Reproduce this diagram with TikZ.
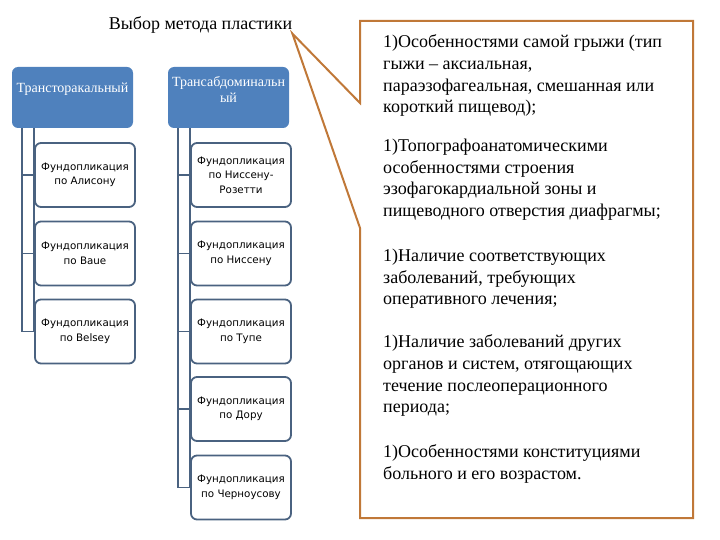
\documentclass[tikz,border=0pt]{standalone}
\usepackage{fontspec}
\setmainfont{Liberation Serif}
\newfontfamily\leaffont{DejaVu Sans}
\usepackage{xcolor}
\usetikzlibrary{positioning,calc}

\definecolor{headblue}{RGB}{79,129,189}
\definecolor{slate}{RGB}{74,98,128}
\definecolor{calloutorange}{RGB}{192,120,56}

\tikzset{
  headbox/.style={fill=headblue,rounded corners=6pt,minimum width=121pt,minimum height=61pt,inner sep=0pt},
  headtext/.style={white,align=center,inner sep=0pt,font=\fontsize{14}{16}\selectfont},
  leafbox/.style={draw=slate,line width=1.8pt,fill=white,rounded corners=6pt,minimum width=100pt,minimum height=64pt,inner sep=0pt,align=center,font=\leaffont\fontsize{10.3}{14.5}\selectfont},
  link/.style={draw=slate,line width=1.8pt},
  reason/.style={anchor=north west,align=left,inner sep=0pt,font=\fontsize{18}{21.7}\selectfont}
}

\begin{document}
\begin{tikzpicture}[x=1pt,y=-1pt]
  \useasboundingbox (0,0) rectangle (720,540);

  \node[inner sep=0pt,font=\fontsize{18}{20}\selectfont] (title) at (200.5,25) {Выбор метода пластики};

  \node[headbox] (thor) at (72.5,97.5) {};
  \node[headbox] (abd) at (228.5,97.5) {};
  \node[headtext] (thortext) at (72.5,89) {Трансторакальный};
  \node[headtext] (abdtext) at (228.5,89) {Трансабдоминальн\\ый};

  \foreach \name/\y/\txt in {L1/175/{Фундопликация\\по Алисону},
                             L2/253.5/{Фундопликация\\по Baue},
                             L3/331.5/{Фундопликация\\по Belsey}}
    \node[leafbox] (\name) at (85,\y) {\txt};

  \foreach \name/\y/\txt in {R1/175/{Фундопликация\\по Ниссену-\\Розетти},
                             R2/253.5/{Фундопликация\\по Ниссену},
                             R3/331.5/{Фундопликация\\по Тупе},
                             R4/409/{Фундопликация\\по Дору},
                             R5/487.5/{Фундопликация\\по Черноусову}}
    \node[leafbox] (\name) at (241,\y) {\txt};

  \foreach \name in {L1,L2,L3}
    \draw[link] ([xshift=10pt]thor.south west) |- (\name.west);
  \draw[link] (thor.south -| L1.west) -- (L3.west);

  \foreach \name in {R1,R2,R3,R4,R5}
    \draw[link] ([xshift=10pt]abd.south west) |- (\name.west);
  \draw[link] (abd.south -| R1.west) -- (R5.west);

  \coordinate (tip) at (title.south east);
  \draw[calloutorange,line width=2pt,fill=white,line join=miter]
    (360,21) -- (693,21) -- (693,518) -- (360,518) -- (360,228) -- (tip) -- (360,103) -- cycle;

  \node[reason] (hernia) at (383,34.7) {1)Особенностями самой грыжи (тип\\гыжи – аксиальная,\\параэзофагеальная, смешанная или\\короткий пищевод);};
  \node[reason] (topo) at (383,138.7) {1)Топографоанатомическими\\особенностями строения\\эзофагокардиальной зоны и\\пищеводного отверстия диафрагмы;};
  \node[reason] (diseases) at (383,248.7) {1)Наличие соответствующих\\заболеваний, требующих\\оперативного лечения;};
  \node[reason] (organs) at (383,334.7) {1)Наличие заболеваний других\\органов и систем, отягощающих\\течение послеоперационного\\периода;};
  \node[reason] (constit) at (383,444.7) {1)Особенностями конституциями\\больного и его возрастом.};
\end{tikzpicture}
\end{document}
